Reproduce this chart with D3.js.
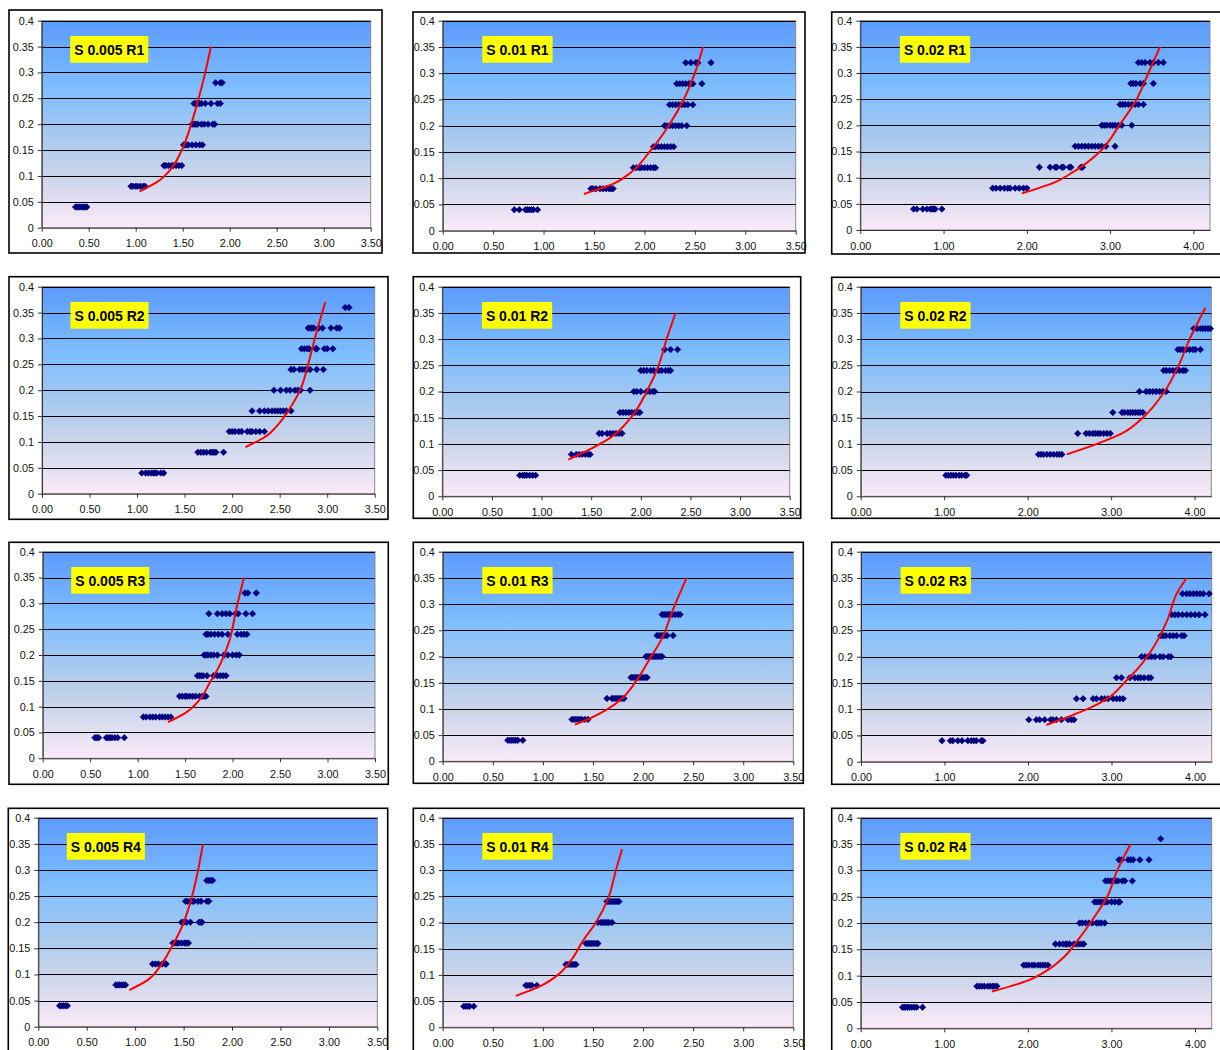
<!DOCTYPE html>
<html>
<head>
<meta charset="utf-8">
<script src="https://cdn.jsdelivr.net/npm/d3@7"></script>
<style>
  html, body { margin: 0; padding: 0; background: #fff; }
  svg { display: block; }
</style>
</head>
<body>
<svg id="chart" width="1220" height="1050"></svg>
<script>
// ---- data ------------------------------------------------------------
const panelNames = [
  "S 0.005 R1", "S 0.01 R1", "S 0.02 R1",
  "S 0.005 R2", "S 0.01 R2", "S 0.02 R2",
  "S 0.005 R3", "S 0.01 R3", "S 0.02 R3",
  "S 0.005 R4", "S 0.01 R4", "S 0.02 R4"
];

// strain levels at which the measurements were taken (one row of points each)
const yLevels = [0.04, 0.08, 0.12, 0.16, 0.20, 0.24, 0.28, 0.32, 0.36];

const yTicks = [0, 0.05, 0.1, 0.15, 0.2, 0.25, 0.3, 0.35, 0.4];
const xTicksNarrow = [0, 0.5, 1, 1.5, 2, 2.5, 3, 3.5];
const xTicksWide = [0, 1, 2, 3, 4];
const xMaxNarrow = 3.5;
const xMaxWide = 4.2;

// measured x values, one list per strain level (0.04 upward)
const s005r1 = [
  [0.36, 0.38, 0.40, 0.42, 0.44, 0.46, 0.48],
  [0.95, 0.97, 1.00, 1.02, 1.05, 1.08, 1.10],
  [1.30, 1.32, 1.35, 1.38, 1.40, 1.43, 1.46, 1.49],
  [1.51, 1.52, 1.54, 1.56, 1.60, 1.64, 1.68, 1.71],
  [1.60, 1.62, 1.64, 1.66, 1.70, 1.73, 1.77, 1.82, 1.84],
  [1.62, 1.64, 1.66, 1.68, 1.70, 1.74, 1.80, 1.87, 1.90],
  [1.85, 1.90, 1.92]
];
const s01r1 = [
  [0.71, 0.76, 0.82, 0.84, 0.86, 0.88, 0.90, 0.94],
  [1.47, 1.49, 1.52, 1.56, 1.59, 1.62, 1.65, 1.67, 1.69],
  [1.89, 1.92, 1.95, 1.97, 2.00, 2.03, 2.06, 2.09, 2.11],
  [2.09, 2.11, 2.14, 2.17, 2.20, 2.23, 2.26, 2.29],
  [2.20, 2.22, 2.25, 2.28, 2.31, 2.34, 2.37, 2.42],
  [2.25, 2.28, 2.31, 2.34, 2.37, 2.40, 2.43, 2.48],
  [2.32, 2.35, 2.38, 2.41, 2.44, 2.46, 2.48, 2.57],
  [2.41, 2.46, 2.51, 2.53, 2.66]
];
const s02r1 = [
  [0.64, 0.68, 0.75, 0.80, 0.84, 0.86, 0.88, 0.90, 0.98],
  [1.59, 1.63, 1.68, 1.73, 1.77, 1.80, 1.86, 1.91, 1.96, 2.00],
  [2.15, 2.28, 2.34, 2.36, 2.42, 2.44, 2.51, 2.53, 2.65, 2.67],
  [2.58, 2.62, 2.66, 2.70, 2.74, 2.78, 2.82, 2.86, 2.90, 2.95, 3.06],
  [2.90, 2.93, 2.96, 3.00, 3.03, 3.06, 3.10, 3.14, 3.26],
  [3.12, 3.15, 3.18, 3.22, 3.26, 3.30, 3.34, 3.40],
  [3.25, 3.28, 3.31, 3.36, 3.40, 3.52],
  [3.34, 3.38, 3.42, 3.48, 3.52, 3.58, 3.64]
];
const s005r2 = [
  [1.05, 1.09, 1.12, 1.15, 1.17, 1.19, 1.21, 1.25, 1.28],
  [1.64, 1.67, 1.70, 1.73, 1.77, 1.79, 1.81, 1.83, 1.91],
  [1.97, 2.00, 2.03, 2.07, 2.10, 2.16, 2.19, 2.21, 2.25, 2.29, 2.34],
  [2.21, 2.29, 2.34, 2.38, 2.42, 2.45, 2.48, 2.51, 2.54, 2.57, 2.62],
  [2.44, 2.51, 2.57, 2.61, 2.66, 2.69, 2.72, 2.82],
  [2.62, 2.65, 2.71, 2.74, 2.77, 2.79, 2.82, 2.89, 2.96],
  [2.73, 2.76, 2.79, 2.81, 2.88, 2.89, 2.97, 3.00, 3.06],
  [2.80, 2.82, 2.84, 2.86, 2.91, 2.95, 3.04, 3.10, 3.13],
  [3.19, 3.23]
];
const s01r2 = [
  [0.78, 0.81, 0.83, 0.85, 0.88, 0.91, 0.94],
  [1.30, 1.35, 1.38, 1.41, 1.44, 1.47, 1.49],
  [1.58, 1.61, 1.66, 1.69, 1.72, 1.75, 1.78, 1.81],
  [1.79, 1.82, 1.85, 1.88, 1.91, 1.94, 1.97, 1.99],
  [1.93, 1.96, 2.00, 2.06, 2.09, 2.12, 2.14],
  [2.00, 2.03, 2.06, 2.10, 2.13, 2.18, 2.21, 2.25, 2.28, 2.30],
  [2.24, 2.30, 2.37]
];
const s02r2 = [
  [1.02, 1.05, 1.08, 1.11, 1.14, 1.18, 1.21, 1.25, 1.27],
  [2.13, 2.16, 2.19, 2.23, 2.27, 2.31, 2.35, 2.38, 2.41],
  [2.60, 2.70, 2.74, 2.78, 2.81, 2.84, 2.87, 2.91, 2.95, 2.99],
  [3.02, 3.13, 3.16, 3.20, 3.23, 3.26, 3.29, 3.32, 3.35, 3.38],
  [3.34, 3.42, 3.46, 3.50, 3.54, 3.58, 3.62, 3.66],
  [3.63, 3.66, 3.70, 3.74, 3.78, 3.82, 3.86, 3.89],
  [3.80, 3.83, 3.86, 3.90, 3.94, 3.98, 4.01, 4.07],
  [3.99, 4.03, 4.07, 4.10, 4.13, 4.16, 4.19]
];
const s005r3 = [
  [0.55, 0.57, 0.59, 0.67, 0.69, 0.71, 0.73, 0.76, 0.79, 0.86],
  [1.06, 1.09, 1.13, 1.16, 1.19, 1.23, 1.26, 1.29, 1.32, 1.35],
  [1.44, 1.47, 1.50, 1.52, 1.55, 1.58, 1.61, 1.65, 1.68, 1.70, 1.72],
  [1.63, 1.65, 1.67, 1.69, 1.73, 1.80, 1.84, 1.87, 1.90, 1.93],
  [1.70, 1.72, 1.74, 1.77, 1.80, 1.84, 1.91, 1.95, 2.00, 2.04, 2.07],
  [1.72, 1.74, 1.77, 1.81, 1.85, 1.89, 1.95, 2.05, 2.09, 2.12, 2.15],
  [1.75, 1.84, 1.89, 1.93, 1.97, 2.03, 2.06, 2.14, 2.21],
  [2.13, 2.16, 2.25]
];
const s01r3 = [
  [0.65, 0.67, 0.69, 0.71, 0.73, 0.75, 0.80],
  [1.29, 1.31, 1.33, 1.35, 1.37, 1.39, 1.42, 1.45],
  [1.64, 1.69, 1.71, 1.73, 1.75, 1.77, 1.79, 1.81],
  [1.88, 1.90, 1.92, 1.94, 1.96, 1.98, 2.00, 2.02, 2.04],
  [2.03, 2.05, 2.07, 2.09, 2.11, 2.13, 2.15, 2.17, 2.19],
  [2.14, 2.16, 2.18, 2.20, 2.22, 2.24, 2.30],
  [2.19, 2.21, 2.23, 2.25, 2.27, 2.29, 2.32, 2.35, 2.37]
];
const s02r3 = [
  [0.97, 1.07, 1.10, 1.16, 1.21, 1.28, 1.32, 1.35, 1.38, 1.44, 1.46],
  [2.01, 2.10, 2.14, 2.20, 2.27, 2.30, 2.34, 2.40, 2.48, 2.52, 2.55],
  [2.58, 2.66, 2.78, 2.82, 2.88, 2.92, 2.96, 3.02, 3.06, 3.10, 3.14],
  [3.06, 3.12, 3.22, 3.28, 3.32, 3.35, 3.39, 3.44, 3.47],
  [3.36, 3.40, 3.44, 3.48, 3.52, 3.58, 3.62, 3.68, 3.71],
  [3.59, 3.62, 3.65, 3.70, 3.74, 3.78, 3.84, 3.87],
  [3.72, 3.76, 3.80, 3.85, 3.90, 3.95, 4.00, 4.05, 4.12],
  [3.85, 3.90, 3.94, 3.98, 4.02, 4.06, 4.10, 4.17]
];
const s005r4 = [
  [0.22, 0.24, 0.26, 0.28, 0.30],
  [0.80, 0.82, 0.84, 0.86, 0.88, 0.90],
  [1.18, 1.21, 1.24, 1.28, 1.31, 1.32],
  [1.39, 1.41, 1.43, 1.45, 1.48, 1.51, 1.53, 1.55],
  [1.48, 1.50, 1.53, 1.57, 1.66, 1.68, 1.69],
  [1.52, 1.54, 1.57, 1.59, 1.61, 1.65, 1.68, 1.74, 1.76],
  [1.74, 1.76, 1.78, 1.80]
];
const s01r4 = [
  [0.21, 0.23, 0.25, 0.27, 0.31],
  [0.83, 0.85, 0.87, 0.89, 0.94],
  [1.23, 1.25, 1.27, 1.29, 1.31, 1.33],
  [1.43, 1.45, 1.47, 1.49, 1.51, 1.53, 1.55],
  [1.55, 1.58, 1.60, 1.62, 1.64, 1.66, 1.69],
  [1.64, 1.66, 1.68, 1.70, 1.72, 1.74, 1.76]
];
const s02r4 = [
  [0.50, 0.52, 0.54, 0.56, 0.58, 0.61, 0.64, 0.67, 0.74],
  [1.39, 1.42, 1.45, 1.48, 1.52, 1.55, 1.58, 1.60, 1.63],
  [1.95, 1.98, 2.01, 2.05, 2.08, 2.12, 2.15, 2.18, 2.21, 2.24],
  [2.33, 2.38, 2.42, 2.45, 2.47, 2.50, 2.55, 2.58, 2.61, 2.64, 2.67],
  [2.62, 2.65, 2.69, 2.73, 2.77, 2.82, 2.85, 2.88, 2.92],
  [2.80, 2.83, 2.86, 2.89, 2.92, 2.95, 3.00, 3.04, 3.08, 3.10],
  [2.93, 2.96, 2.99, 3.02, 3.05, 3.08, 3.13, 3.16, 3.25],
  [3.09, 3.12, 3.20, 3.23, 3.26, 3.34, 3.45],
  [3.59]
];

// fitted model curves (x, y pairs)
const s005r1FitX = [1.04, 1.24, 1.36, 1.49, 1.59, 1.67, 1.74, 1.80];
const s005r1FitY = [0.07, 0.09, 0.11, 0.15, 0.20, 0.25, 0.30, 0.35];
const s01r1FitX = [1.40, 1.70, 1.86, 2.05, 2.24, 2.39, 2.50, 2.58];
const s01r1FitY = [0.07, 0.09, 0.11, 0.15, 0.20, 0.25, 0.30, 0.35];
const s02r1FitX = [1.94, 2.32, 2.55, 2.88, 3.11, 3.32, 3.46, 3.60];
const s02r1FitY = [0.07, 0.09, 0.11, 0.15, 0.20, 0.25, 0.30, 0.35];
const s005r2FitX = [2.14, 2.35, 2.49, 2.59, 2.715, 2.80, 2.87, 2.98];
const s005r2FitY = [0.09, 0.11, 0.135, 0.16, 0.20, 0.25, 0.30, 0.37];
const s01r2FitX = [1.27, 1.49, 1.68, 1.90, 2.06, 2.18, 2.26, 2.35];
const s01r2FitY = [0.07, 0.09, 0.11, 0.15, 0.20, 0.25, 0.30, 0.35];
const s02r2FitX = [2.47, 2.83, 3.13, 3.38, 3.64, 3.81, 3.94, 4.13];
const s02r2FitY = [0.08, 0.10, 0.12, 0.15, 0.20, 0.25, 0.30, 0.36];
const s005r3FitX = [1.32, 1.52, 1.66, 1.755, 1.85, 1.97, 2.04, 2.12];
const s005r3FitY = [0.07, 0.09, 0.115, 0.145, 0.175, 0.23, 0.29, 0.35];
const s01r3FitX = [1.32, 1.47, 1.65, 1.79, 1.92, 2.05, 2.19, 2.30, 2.435];
const s01r3FitY = [0.07, 0.082, 0.10, 0.12, 0.15, 0.19, 0.235, 0.29, 0.35];
const s02r3FitX = [2.22, 2.47, 2.71, 2.95, 3.15, 3.33, 3.51, 3.67, 3.78, 3.90];
const s02r3FitY = [0.07, 0.085, 0.10, 0.12, 0.15, 0.18, 0.22, 0.27, 0.32, 0.35];
const s005r4FitX = [0.94, 1.135, 1.256, 1.37, 1.48, 1.566, 1.65, 1.70];
const s005r4FitY = [0.07, 0.09, 0.115, 0.15, 0.19, 0.235, 0.30, 0.35];
const s01r4FitX = [0.73, 0.99, 1.15, 1.29, 1.40, 1.53, 1.65, 1.73, 1.79];
const s01r4FitY = [0.06, 0.08, 0.10, 0.13, 0.165, 0.20, 0.245, 0.30, 0.34];
const s02r4FitX = [1.57, 1.99, 2.23, 2.43, 2.61, 2.79, 2.95, 3.07, 3.23];
const s02r4FitY = [0.07, 0.09, 0.11, 0.135, 0.17, 0.21, 0.25, 0.30, 0.35];

// ---- layout ----------------------------------------------------------
// chart frames and inner plot areas, [left, top, right, bottom]
const frameRects = [
  [9, 10, 382, 253], [413, 12, 805, 253], [831.7, 12, 1240, 254],
  [9, 276.7, 388, 519.3], [413.3, 276.7, 800.7, 518.3], [831.7, 277.3, 1240, 518.3],
  [9, 542.3, 388.3, 784.3], [413.3, 542.3, 803.3, 783.3], [831.7, 542.3, 1240, 784.3],
  [8.3, 808.3, 387.7, 1070], [413.3, 808.3, 804, 1070], [831.7, 808.3, 1240, 1070]
];
const plotRects = [
  [41.7, 20.7, 370.7, 227.7], [442.7, 20.7, 795.7, 230.7], [860.3, 20.7, 1210, 230],
  [42, 286.7, 374.7, 493.7], [442.3, 286.7, 789.7, 496.3], [860.7, 286.7, 1211.3, 496.3],
  [42.7, 551.7, 375, 758.3], [442.7, 551.7, 793.3, 761.3], [861, 551.7, 1211.7, 761.7],
  [38.3, 817.7, 377.3, 1026.7], [442.7, 817.7, 793.3, 1027.3], [860.7, 817.7, 1211.7, 1028.3]
];
const labelOffsetX = [28.5, 39.6, 39.6];
const labelOffsetY = 15.3;

const panelPoints = [s005r1, s01r1, s02r1, s005r2, s01r2, s02r2,
                     s005r3, s01r3, s02r3, s005r4, s01r4, s02r4];
const panelFitX = [s005r1FitX, s01r1FitX, s02r1FitX, s005r2FitX, s01r2FitX, s02r2FitX,
                   s005r3FitX, s01r3FitX, s02r3FitX, s005r4FitX, s01r4FitX, s02r4FitX];
const panelFitY = [s005r1FitY, s01r1FitY, s02r1FitY, s005r2FitY, s01r2FitY, s02r2FitY,
                   s005r3FitY, s01r3FitY, s02r3FitY, s005r4FitY, s01r4FitY, s02r4FitY];

const FONT = "Liberation Sans, Arial, sans-serif";
const svg = d3.select("#chart");

// shared background gradient of the plot areas
const grad = svg.append("defs").append("linearGradient")
  .attr("id", "plotBg").attr("x1", 0).attr("y1", 0).attr("x2", 0).attr("y2", 1);
[[0, "#5c9bfd"], [0.33, "#7fbefe"], [0.55, "#a6c9ef"], [0.75, "#cbd5eb"], [1, "#fbeaf8"]]
  .forEach(([o, c]) => grad.append("stop").attr("offset", o).attr("stop-color", c));

const yFmt = d => d === 0 ? "0" : String(+d.toFixed(2));
const xFmt = d3.format(".2f");
const diamond = d3.symbol().type(d3.symbolSquare).size(21);

panelNames.forEach((name, i) => {
  const col = i % 3;
  const wide = col === 2;
  const [fl, ft, fr, fb] = frameRects[i];
  const [pl, pt, pr, pb] = plotRects[i];
  const xMax = wide ? xMaxWide : xMaxNarrow;

  const x = d3.scaleLinear().domain([0, xMax]).range([pl, pr]);
  const y = d3.scaleLinear().domain([0, 0.4]).range([pb, pt]);

  const g = svg.append("g");

  // outer chart frame
  g.append("rect")
    .attr("x", fl).attr("y", ft).attr("width", fr - fl).attr("height", fb - ft)
    .attr("fill", "#fff").attr("stroke", "#000").attr("stroke-width", 1.6);

  // plot area
  g.append("rect")
    .attr("x", pl).attr("y", pt).attr("width", pr - pl).attr("height", pb - pt)
    .attr("fill", "url(#plotBg)").attr("stroke", "#8a8a8a").attr("stroke-width", 1);

  // horizontal gridlines
  g.append("g").selectAll("line")
    .data(yTicks.filter(d => d > 0))
    .join("line")
    .attr("x1", pl).attr("x2", pr)
    .attr("y1", d => Math.round(y(d)) + 0.5).attr("y2", d => Math.round(y(d)) + 0.5)
    .attr("stroke", "#000").attr("stroke-width", 1);

  // axes
  const yAxis = g.append("g").attr("transform", `translate(${pl},0)`)
    .call(d3.axisLeft(y).tickValues(yTicks).tickFormat(yFmt)
      .tickSize(4).tickSizeOuter(0).tickPadding(4));
  const xAxis = g.append("g").attr("transform", `translate(0,${pb})`)
    .call(d3.axisBottom(x).tickValues(wide ? xTicksWide : xTicksNarrow).tickFormat(xFmt)
      .tickSize(4).tickSizeOuter(0).tickPadding(8));
  [yAxis, xAxis].forEach(a => {
    a.attr("font-family", FONT).attr("font-size", 10.8);
    a.selectAll("path, line").attr("stroke", "#333");
    a.selectAll("text").attr("fill", "#111");
  });

  // observed points
  const pts = [];
  panelPoints[i].forEach((row, k) => row.forEach(v => pts.push([v, yLevels[k]])));
  g.append("g").selectAll("path")
    .data(pts)
    .join("path")
    .attr("d", diamond)
    .attr("transform", d => `translate(${x(d[0])},${y(d[1])}) rotate(45)`)
    .attr("fill", "#000080").attr("stroke", "#000080").attr("stroke-width", 0.6);

  // model curve
  const fit = panelFitX[i].map((v, k) => [v, panelFitY[i][k]]);
  g.append("path")
    .datum(fit)
    .attr("d", d3.line().x(d => x(d[0])).y(d => y(d[1])).curve(d3.curveMonotoneY))
    .attr("fill", "none").attr("stroke", "#ff0000").attr("stroke-width", 2);

  // panel label in yellow box
  const lx = pl + labelOffsetX[col];
  const ly = pt + labelOffsetY;
  const lab = g.append("g");
  const box = lab.append("rect").attr("fill", "#ffff00");
  const txt = lab.append("text")
    .attr("x", lx + 4).attr("y", ly + 18.5)
    .attr("font-family", FONT).attr("font-weight", "bold").attr("font-size", 14)
    .attr("fill", "#000").text(name);
  const w = txt.node().getComputedTextLength();
  box.attr("x", lx).attr("y", ly).attr("width", w + 8).attr("height", 26.7);
});
</script>
</body>
</html>
